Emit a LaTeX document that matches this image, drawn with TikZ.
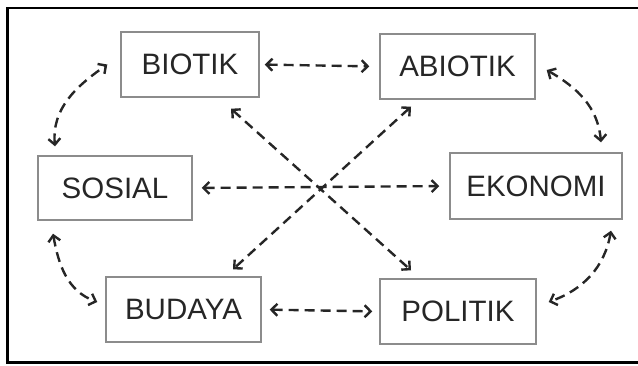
\documentclass[tikz,border=0pt]{standalone}
\usepackage{fontspec}
\setmainfont{Liberation Sans}
\usetikzlibrary{arrows.meta}
\definecolor{boxline}{HTML}{8C8C8C}
\definecolor{inkdark}{HTML}{262626}
\tikzset{
  concept/.style={draw=boxline, line width=1.4pt, inner sep=0pt, text=inkdark,
    font=\fontsize{29.5}{34}\selectfont},
  link/.style={draw=inkdark, line width=2.4pt, dash pattern=on 10pt off 6pt,
    {Straight Barb[length=6pt,width=12pt]}-{Straight Barb[length=6pt,width=12pt]}},
  frame/.style={draw=black, line width=2.4pt}
}
\begin{document}
\begin{tikzpicture}[x=1pt,y=1pt]
\useasboundingbox (0,0) rectangle (638,-365);
\clip (0,0) rectangle (638,-365);
% outer frame, open on the right
\draw[frame] (650,-8) -- (7.5,-8) -- (7.5,-362.5) -- (650,-362.5);

% concept boxes
\node[concept, minimum width=138pt, minimum height=65pt] (bio) at (190,-64.5) {BIOTIK};
\node[concept, minimum width=155pt, minimum height=65pt] (abio) at (457.5,-66.5) {ABIOTIK};
\node[concept, minimum width=154pt, minimum height=64pt] (sos) at (115,-188) {SOSIAL};
\node[concept, minimum width=172pt, minimum height=66pt] (eko) at (536,-186) {EKONOMI};
\node[concept, minimum width=155pt, minimum height=65pt] (bud) at (183.5,-309.5) {BUDAYA};
\node[concept, minimum width=156pt, minimum height=65pt] (pol) at (458,-311.5) {POLITIK};

% horizontal links
\draw[link, shorten <=5pt, shorten >=10pt] (bio.east) -- (abio.west);
\draw[link, shorten <=9pt, shorten >=10pt] (sos.east) -- (eko.west);
\draw[link, shorten <=8pt, shorten >=7pt] (bud.east) -- (pol.west);

% crossing diagonals
\draw[link] ([shift={(41,-11)}]bio.south) -- ([shift={(-47,8)}]pol.north);
\draw[link] ([shift={(-46.5,-7)}]abio.south) -- ([shift={(49.5,7)}]bud.north);

% curved side links
\draw[link] ([shift={(-60,9)}]sos.north) to[out=95,in=215] ([shift={(-13,0)}]bio.west);
\draw[link] ([shift={(11,-3.5)}]abio.east) to[out=-30,in=95] ([shift={(65,10)}]eko.north);
\draw[link] ([shift={(-62,-13)}]sos.south) to[out=-80,in=160] ([shift={(-8,7.5)}]bud.west);
\draw[link] ([shift={(75,-11)}]eko.south) to[out=-100,in=20] ([shift={(12,9.5)}]pol.east);
\end{tikzpicture}
\end{document}
